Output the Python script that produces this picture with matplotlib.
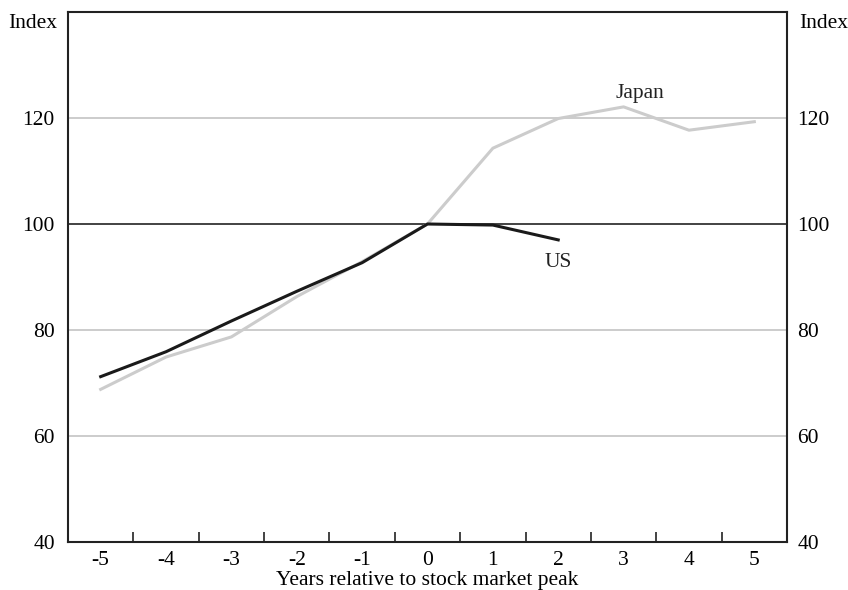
import matplotlib
matplotlib.use("Agg")
import matplotlib.pyplot as plt
from matplotlib.ticker import FixedLocator

years_us = [-5, -4, -3, -2, -1, 0, 1, 2]
us = [71.2, 75.9, 81.7, 87.3, 92.7, 100.0, 99.8, 97.0]
years_jp = [-5, -4, -3, -2, -1, 0, 1, 2, 3, 4, 5]
japan = [68.8, 74.9, 78.7, 86.3, 92.9, 100.0, 114.3, 119.9, 122.1, 117.7, 119.3]
yticks = [40, 60, 80, 100, 120]
xticks = list(range(-5, 6))

FS = 15.5
plt.rcParams['font.family'] = ['Liberation Serif', 'DejaVu Serif']
plt.rcParams['font.size'] = FS

fig = plt.figure(figsize=(8.48, 5.90), dpi=100)
ax = fig.add_axes([68/848, 48/590, (787-68)/848, (542-12)/590])

for y in [60, 80, 120]:
    ax.axhline(y, color='#c4c4c4', lw=1.2, zorder=1)
ax.axhline(100, color='#222222', lw=1.2, zorder=1)

ax.plot(years_jp, japan, color='#cccccc', lw=2.2, zorder=2)
ax.plot(years_us, us, color='#1a1a1a', lw=2.2, zorder=3)

ax.text(3.25, 124.7, 'Japan', ha='center', va='center', fontsize=FS, color='#222222')
ax.text(2.0, 92.8, 'US', ha='center', va='center', fontsize=FS, color='#222222')

ax.set_xlim(-5.5, 5.5)
ax.set_ylim(40, 140)
ax.set_xticks(xticks)
ax.set_xticklabels([str(x) for x in xticks])
ax.xaxis.set_minor_locator(FixedLocator([x + 0.5 for x in range(-5, 5)]))
ax.tick_params(axis='x', which='major', length=0, pad=6.5)
ax.tick_params(axis='x', which='minor', direction='in', length=7.5, width=1.2, color='#222222')
ax.set_yticks(yticks)
ax.tick_params(axis='y', which='both', length=0, pad=9.5)
for sp in ax.spines.values():
    sp.set_linewidth(1.5)
    sp.set_color('#222222')
ax.set_xlabel('Years relative to stock market peak', labelpad=1)

ax2 = ax.twinx()
ax2.set_ylim(ax.get_ylim())
ax2.set_yticks(yticks)
ax2.tick_params(axis='y', length=0, pad=7.5)
for sp in ax2.spines.values():
    sp.set_visible(False)

fig.text(57/848, 1 - 23/590, 'Index', ha='right', va='center', fontsize=FS)
fig.text(799/848, 1 - 23/590, 'Index', ha='left', va='center', fontsize=FS)

fig.savefig('out.png', dpi=100)
